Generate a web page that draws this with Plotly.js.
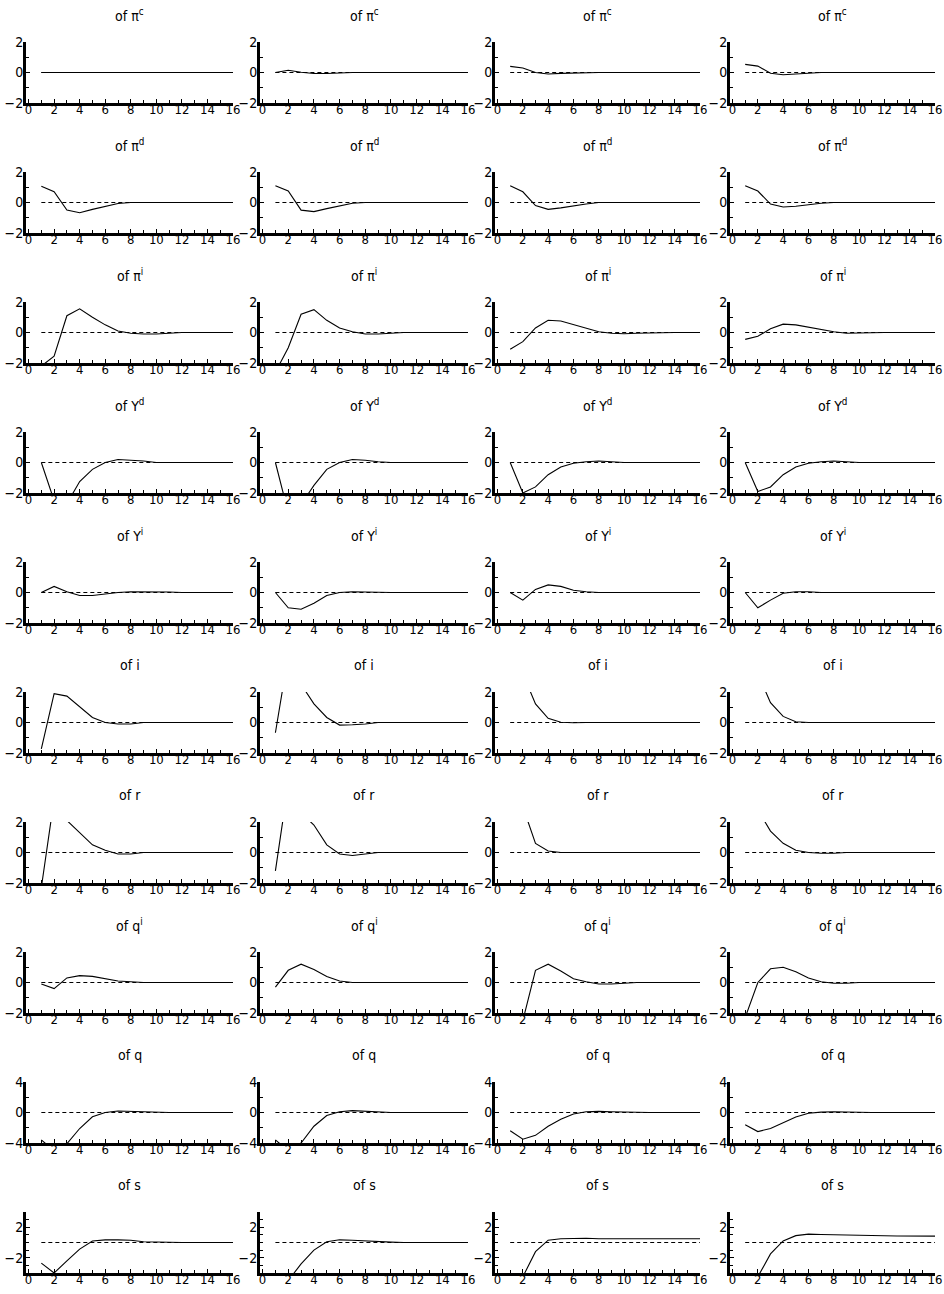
<!DOCTYPE html>
<html><head><meta charset="utf-8">
<script src="https://cdn.plot.ly/plotly-3.0.1.min.js"></script>
<style>body{margin:0;background:#fff}#chart{width:944px;height:1294px}</style>
</head><body><div id="chart"></div>
<script>
const periods = [1,2,3,4,5,6,7,8,9,10,11,12,13,14,15,16];
const baseline = [0,0,0,0,0,0,0,0,0,0,0,0,0,0,0,0];
const xTicks = [0,2,4,6,8,10,12,14,16];
const rowTitles = ['of π<sup>c</sup>','of π<sup>d</sup>','of π<sup>i</sup>','of Y<sup>d</sup>','of Y<sup>i</sup>','of i','of r','of q<sup>i</sup>','of q','of s'];
const yTicksSmall = [-2,0,2];
const yTicksQ = [-4,0,4];
const yTicksS = [-2,2];

const piC = [
 [0,0,0,0,0,0,0,0,0,0,0,0,0,0,0,0],
 [0,0.15,0.02,-0.07,-0.07,-0.02,0,0,0,0,0,0,0,0,0,0],
 [0.4,0.3,0.0,-0.1,-0.06,-0.03,0,0,0,0,0,0,0,0,0,0],
 [0.53,0.42,-0.05,-0.15,-0.1,-0.05,0,0,0,0,0,0,0,0,0,0]
];
const piD = [
 [1.07,0.71,-0.5,-0.67,-0.45,-0.25,-0.07,0,0,0,0,0,0,0,0,0],
 [1.1,0.75,-0.5,-0.6,-0.4,-0.2,-0.05,0,0,0,0,0,0,0,0,0],
 [1.1,0.7,-0.2,-0.45,-0.35,-0.2,-0.1,0,0,0,0,0,0,0,0,0],
 [1.1,0.75,-0.1,-0.3,-0.25,-0.15,-0.05,0,0,0,0,0,0,0,0,0]
];
const piI = [
 [-2.2,-1.56,1.1,1.55,1.0,0.5,0.1,-0.05,-0.1,-0.1,-0.05,0,0,0,0,0],
 [-2.6,-1.0,1.2,1.5,0.8,0.3,0.05,-0.1,-0.1,-0.05,0,0,0,0,0,0],
 [-1.1,-0.6,0.3,0.8,0.75,0.5,0.25,0.05,-0.05,-0.08,-0.05,-0.02,0,0,0,0],
 [-0.45,-0.25,0.25,0.55,0.5,0.35,0.2,0.05,-0.05,-0.05,-0.02,0,0,0,0,0]
];
const yD = [
 [0,-2.5,-2.7,-1.25,-0.45,0,0.2,0.15,0.1,0,0,0,0,0,0,0],
 [0,-3.3,-2.75,-1.5,-0.45,0,0.2,0.15,0.05,0,0,0,0,0,0,0],
 [0,-2.0,-1.6,-0.8,-0.3,-0.05,0.05,0.1,0.05,0,0,0,0,0,0,0],
 [0,-1.9,-1.6,-0.8,-0.3,-0.05,0.05,0.1,0.05,0,0,0,0,0,0,0]
];
const yI = [
 [0,0.4,0.05,-0.2,-0.2,-0.1,0,0.05,0.05,0.05,0.03,0,0,0,0,0],
 [0,-1.0,-1.1,-0.7,-0.2,0,0.05,0.05,0.02,0,0,0,0,0,0,0],
 [0,-0.5,0.2,0.5,0.4,0.15,0.05,0,0,0,0,0,0,0,0,0],
 [0,-1.0,-0.5,-0.05,0.05,0.05,0,0,0,0,0,0,0,0,0,0]
];
const iRate = [
 [-1.73,1.89,1.73,1.0,0.33,0,-0.1,-0.1,0,0,0,0,0,0,0,0],
 [-0.67,4.4,2.5,1.22,0.33,-0.17,-0.15,-0.1,0,0,0,0,0,0,0,0],
 [6,3.2,1.22,0.27,0.02,-0.02,0,0,0,0,0,0,0,0,0,0],
 [6,3.2,1.3,0.4,0.05,0,0,0,0,0,0,0,0,0,0,0]
];
const rRate = [
 [-2.3,3.5,2.1,1.3,0.5,0.15,-0.1,-0.1,0,0,0,0,0,0,0,0],
 [-1.2,4.5,2.6,1.8,0.5,-0.1,-0.2,-0.1,0,0,0,0,0,0,0,0],
 [5,3.0,0.6,0.1,0,0,0,0,0,0,0,0,0,0,0,0],
 [5,2.8,1.4,0.6,0.15,0,-0.05,-0.05,0,0,0,0,0,0,0,0]
];
const qI = [
 [-0.1,-0.4,0.3,0.45,0.4,0.25,0.1,0.05,0,0,0,0,0,0,0,0],
 [-0.3,0.8,1.2,0.85,0.4,0.1,0,0,0,0,0,0,0,0,0,0],
 [-4,-2.5,0.8,1.2,0.75,0.25,0.05,-0.1,-0.1,-0.05,0,0,0,0,0,0],
 [-2.3,0,0.9,1.0,0.7,0.3,0.05,-0.05,-0.05,0,0,0,0,0,0,0]
];
const qReal = [
 [-3.6,-5,-4.1,-2.1,-0.57,0,0.2,0.15,0.05,0,0,0,0,0,0,0],
 [-3.6,-5,-4.0,-1.8,-0.4,0.1,0.25,0.15,0.05,0,0,0,0,0,0,0],
 [-2.4,-3.5,-3.0,-1.8,-0.9,-0.2,0.1,0.15,0.1,0.05,0,0,0,0,0,0],
 [-1.6,-2.5,-2.1,-1.3,-0.6,-0.1,0.05,0.1,0.05,0,0,0,0,0,0,0]
];
const sRate = [
 [-2.7,-4.0,-2.4,-0.87,0.2,0.35,0.35,0.3,0.1,0.05,0,0,0,0,0,0],
 [-6,-5,-2.8,-1.0,0.1,0.35,0.3,0.2,0.1,0.05,0,0,0,0,0,0],
 [-6,-4.5,-1.2,0.3,0.5,0.55,0.55,0.5,0.5,0.5,0.5,0.5,0.5,0.5,0.5,0.5],
 [-6,-4.5,-1.5,0.2,0.9,1.1,1.05,1.0,0.95,0.92,0.9,0.88,0.86,0.85,0.84,0.83]
];

const rows = [piC,piD,piI,yD,yI,iRate,rRate,qI,qReal,sRate];

const W = 944, H = 1294;
const colLeft = [26, 260, 495, 730];
const colRight = [233, 468, 700, 935];
const FONT = '"Liberation Sans Narrow", "DejaVu Sans Condensed", "Roboto Condensed", Arial, sans-serif';

const data = [];
const layout = {
  width: W, height: H, margin: {l:0,r:0,t:0,b:0},
  paper_bgcolor:'#fff', plot_bgcolor:'#fff', showlegend:false,
  annotations: []
};

for (let r = 0; r < 10; r++) {
  const top = 42 + 130*r, bot = 103 + 130*r;
  let yr = [-2,2], yt = yTicksSmall, ym = 1;
  if (r === 8) { yr = [-4,4]; yt = yTicksQ; ym = 2; }
  if (r === 9) { yr = [-4,4]; yt = yTicksS; ym = 1; }
  for (let c = 0; c < 4; c++) {
    const n = r*4 + c + 1;
    const xa = 'x' + n, ya = 'y' + n;
    data.push({x: periods, y: baseline, xaxis: xa, yaxis: ya, mode:'lines',
      line:{color:'#000', width:1, dash:'4px,3px'}, hoverinfo:'skip'});
    data.push({x: periods, y: rows[r][c], xaxis: xa, yaxis: ya, mode:'lines',
      line:{color:'#000', width:1.1}, hoverinfo:'skip'});
    layout['xaxis' + n] = {
      domain:[colLeft[c]/W, colRight[c]/W], anchor: ya, range:[-0.2,16],
      tickvals: xTicks, ticktext: xTicks.map(String), ticks:'inside', ticklen:4, tickwidth:1, tickcolor:'#000',
      minor:{dtick:1, tick0:0, ticks:'inside', ticklen:3, tickwidth:1, tickcolor:'#000'},
      showline:true, linewidth:3, linecolor:'#000', showgrid:false, zeroline:false,
      tickfont:{family:FONT, size:13, color:'#000'}, ticklabelstandoff:-8, fixedrange:true
    };
    layout['yaxis' + n] = {
      domain:[1 - bot/H, 1 - top/H], anchor: xa, range: yr,
      tickvals: yt, ticks:'inside', ticklen:4, tickwidth:1, tickcolor:'#000',
      minor:{dtick:ym, tick0:0, ticks:'inside', ticklen:3, tickwidth:1, tickcolor:'#000'},
      showline:true, linewidth:3, linecolor:'#000', showgrid:false, zeroline:false,
      tickfont:{family:FONT, size:14, color:'#000'}, ticklabelstandoff:-3, fixedrange:true
    };
    layout.annotations.push({
      text: rowTitles[r], xref:'paper', yref:'paper',
      x: (colLeft[c] + colRight[c]) / 2 / W, y: 1 - (15 + 130*r)/H,
      xanchor:'center', yanchor:'middle', showarrow:false,
      font:{family:FONT, size:14, color:'#000'}
    });
  }
}

Plotly.newPlot('chart', data, layout, {staticPlot:true, displayModeBar:false});
</script>
</body></html>
